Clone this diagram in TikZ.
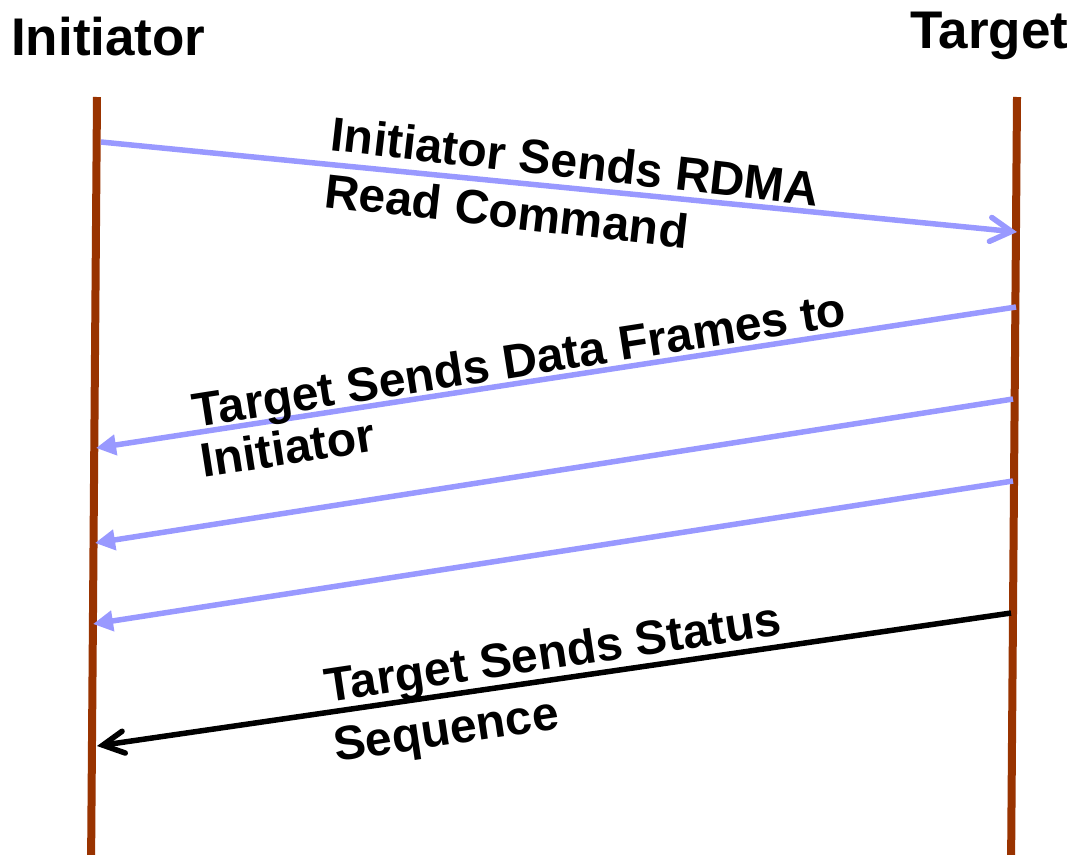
\documentclass[tikz,border=0pt]{standalone}
\usepackage{fontspec}
\setmainfont{Liberation Sans}
\usetikzlibrary{arrows.meta}
\definecolor{lifebrown}{HTML}{993300}
\definecolor{msgblue}{HTML}{9999FF}
\begin{document}
\begin{tikzpicture}[x=1pt,y=-1pt,
  lifeline/.style={draw=lifebrown, line width=8pt},
  datamsg/.style={draw=msgblue, line width=5.5pt,
    -{Triangle[length=20pt,width=20pt]}},
  cmdmsg/.style={draw=msgblue, line width=5.5pt,
    -{Straight Barb[length=21pt,width=24pt,line cap=round]}},
  statusmsg/.style={draw=black, line width=5.5pt,
    -{Straight Barb[length=21pt,width=22pt,line cap=round]}},
  head/.style={font=\bfseries\fontsize{53}{60}\selectfont, inner sep=0pt, anchor=base west},
  % base west of a two-line label sits on the baseline of its last line
  lbl/.style={inner sep=0pt, anchor=base west, align=left}]

\useasboundingbox (0,0) rectangle (1078,854);
\clip (0,0) rectangle (1078,854);

% column headings
\node[head] (hinit) at (11,55) {Initiator};
\node[head] (htgt) at (910,48) {Target};

% lifelines
\coordinate (litop) at (97,97);
\coordinate (libot) at (91,870);
\coordinate (lttop) at (1017,97);
\coordinate (ltbot) at (1011,870);
\draw[lifeline] (litop) -- (libot);
\draw[lifeline] (lttop) -- (ltbot);

% message end points
\coordinate (m1s) at (101,142);
\coordinate (m1e) at (1017,232);
\coordinate (m2s) at (1016,307);
\coordinate (m2e) at (96,448);
\coordinate (m3s) at (1013,399);
\coordinate (m3e) at (95,543);
\coordinate (m4s) at (1013,481);
\coordinate (m4e) at (93,624);
\coordinate (m5s) at (1011,613);
\coordinate (m5e) at (97,746);

% messages
\draw[cmdmsg] (m1s) -- (m1e);
\draw[datamsg] (m2s) -- (m2e);
\draw[datamsg] (m3s) -- (m3e);
\draw[datamsg] (m4s) -- (m4e);
\draw[statusmsg] (m5s) -- (m5e);

% message labels
\node[lbl, rotate=-6.5, font=\bfseries\fontsize{48}{57}\selectfont] (l1) at (323,207)
  {Initiator Sends RDMA\\Read Command};
\node[lbl, rotate=8.9, font=\bfseries\fontsize{48}{51}\selectfont] (l2) at (203,478)
  {Target Sends Data Frames to\\Initiator};
\node[lbl, rotate=8.5, font=\bfseries\fontsize{48}{60}\selectfont] (l3) at (336,762)
  {Target Sends Status\\Sequence};
\end{tikzpicture}
\end{document}
